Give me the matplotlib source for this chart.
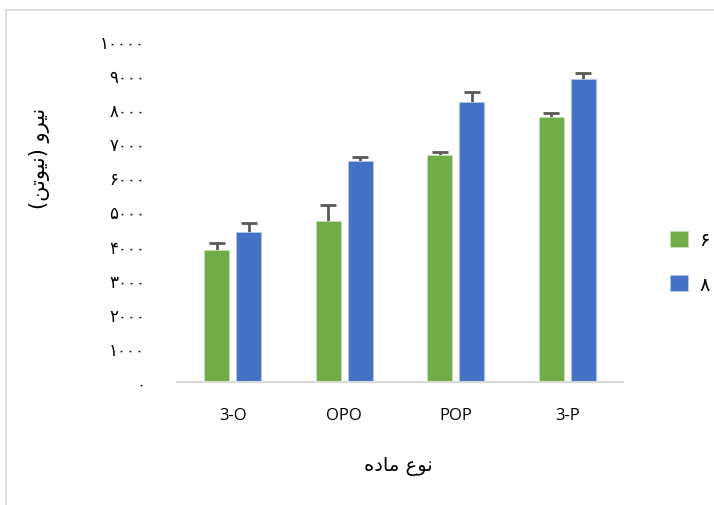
import numpy as np
import matplotlib
matplotlib.use('Agg')
import matplotlib.pyplot as plt
from matplotlib.patches import Rectangle

# material types on the x axis
categories = ['3-O', 'OPO', 'POP', '3-P']
# force (N) for the two series
series_labels = ['\u06f6', '\u06f8']   # 6 and 8 in Persian digits
vals_6 = [3880, 4720, 6650, 7770]
err_6 = [190, 480, 90, 120]
vals_8 = [4410, 6470, 8220, 8890]
err_8 = [250, 140, 290, 175]
y_ticks = [0, 1000, 2000, 3000, 4000, 5000, 6000, 7000, 8000, 9000, 10000]

persian = str.maketrans('0123456789', '\u06f0\u06f1\u06f2\u06f3\u06f4\u06f5\u06f6\u06f7\u06f8\u06f9')
def fa(n):
    return str(n).translate(persian)

# Arabic presentation forms written in visual (left to right) order
ylabel = '(\uFEE6\uFE97\uFEEE\uFEF4\uFEE7) \uFEED\uFEAE\uFEF4\uFEE7'   # نیرو (نیوتن)
xlabel = '\uFEE9\uFEA9\uFE8E\uFEE3 \uFEC9\uFEEE\uFEE7'                 # نوع ماده

W, H = 714, 506
fig = plt.figure(figsize=(W / 100, H / 100), dpi=100)
ax = fig.add_axes([177 / W, 1 - 383 / H, 446 / W, 341 / H])

x = np.arange(len(categories))
bw = 0.224
off = 0.1435
ax.bar(x - off, vals_6, bw, color='#70AD47', edgecolor='#C5E0B4', linewidth=0.6,
       label=series_labels[0], zorder=2)
ax.bar(x + off, vals_8, bw, color='#4472C4', edgecolor='#B4C7E7', linewidth=0.6,
       label=series_labels[1], zorder=2)
# symmetric error bars drawn behind the bars so only the upper half shows
ax.errorbar(x - off, vals_6, yerr=err_6, fmt='none', ecolor='#595959',
            elinewidth=2, capsize=6, capthick=2, zorder=1)
ax.errorbar(x + off, vals_8, yerr=err_8, fmt='none', ecolor='#595959',
            elinewidth=2, capsize=6, capthick=2, zorder=1)

ax.set_xlim(-0.5, len(categories) - 0.5)
ax.set_ylim(0, 10000)
ax.set_xticks(x)
ax.set_xticklabels(categories, fontsize=12, family='Open Sans')
ax.set_yticks(y_ticks)
ax.set_yticklabels([fa(v) for v in y_ticks], fontsize=12, family='DejaVu Sans')
ax.tick_params(axis='x', length=0, pad=18)
ax.tick_params(axis='y', length=0, pad=23)
for s in ['top', 'right', 'left']:
    ax.spines[s].set_visible(False)
ax.spines['bottom'].set_color('#D9D9D9')
ax.spines['bottom'].set_linewidth(1.5)

fig.text(40 / W, 1 - 158 / H, ylabel, rotation=90, ha='center', va='center',
         fontsize=15, family='DejaVu Sans')
fig.text(398 / W, 1 - 467 / H, xlabel, ha='center', va='center',
         fontsize=14, family='DejaVu Sans')

leg = fig.legend(loc='center left', bbox_to_anchor=(670 / W, 1 - 263 / H), frameon=False,
                 fontsize=14, handlelength=0.9, handleheight=0.9, labelspacing=1.3,
                 handletextpad=0.6, borderpad=0, borderaxespad=0)

fig.patches.append(Rectangle((6 / W, -0.1), 2, 1.1 - 11 / H, transform=fig.transFigure,
                             fill=False, edgecolor='#D9D9D9', linewidth=1.2))

fig.savefig('out.png', dpi=100)
